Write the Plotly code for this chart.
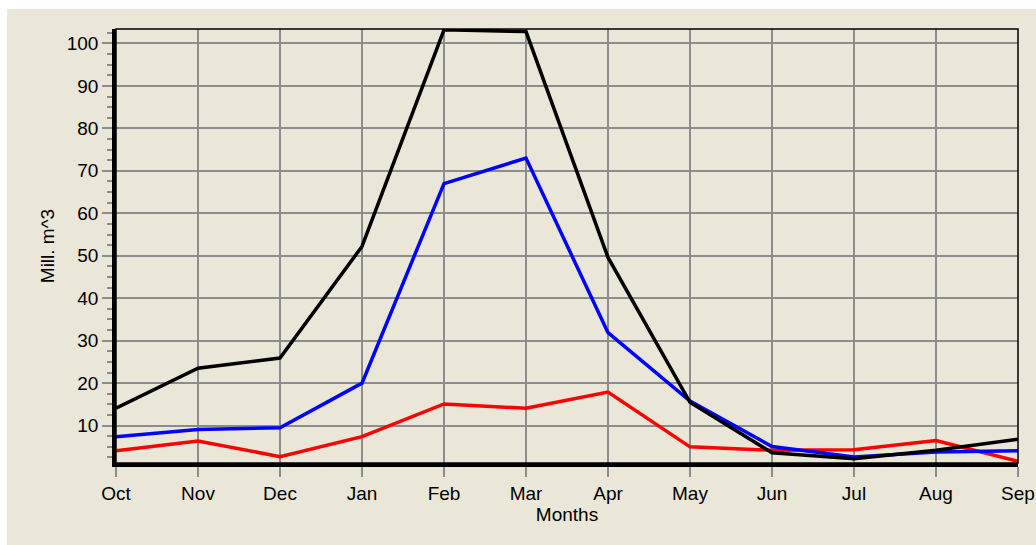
import plotly.graph_objects as go

months = ["Oct", "Nov", "Dec", "Jan", "Feb", "Mar", "Apr", "May", "Jun", "Jul", "Aug", "Sep"]
series_black = [14.1, 23.5, 25.9, 52.2, 103.2, 102.8, 49.6, 15.5, 3.6, 2.2, 4.2, 6.8]
series_blue = [7.4, 9.1, 9.5, 20.0, 67.0, 73.0, 31.9, 15.8, 5.1, 2.6, 3.8, 4.1]
series_red = [4.1, 6.4, 2.7, 7.4, 15.1, 14.1, 17.9, 5.0, 4.2, 4.3, 6.5, 1.6]
y_ticks = [10, 20, 30, 40, 50, 60, 70, 80, 90, 100]

BEIGE = "#EAE6D8"
GRID = "#8C8C8C"
FONT = "Liberation Sans, Arial, sans-serif"

x = list(range(len(months)))

fig = go.Figure()
for vals, col in [(series_red, "#FF0000"), (series_blue, "#0000FF"), (series_black, "#000000")]:
    fig.add_trace(go.Scatter(x=x, y=vals, mode="lines",
                             line=dict(color=col, width=3.5), showlegend=False))

fig.update_layout(
    width=1036, height=545,
    margin=dict(l=116, r=18, t=29, b=82, autoexpand=False),
    paper_bgcolor=BEIGE, plot_bgcolor=BEIGE,
    font=dict(family=FONT, size=19, color="black"),
    shapes=[
        # white strips along the top and left page edges
        dict(type="rect", xref="paper", yref="paper", x0=-0.2, x1=1.1, y0=1.0 + 20 / 434, y1=1.1,
             fillcolor="white", line=dict(width=0), layer="below"),
        dict(type="rect", xref="paper", yref="paper", x0=-116 / 902, x1=-109 / 902, y0=-0.3, y1=1.1,
             fillcolor="white", line=dict(width=0), layer="below"),
        # frame around the plot area
        dict(type="rect", xref="paper", yref="paper", x0=0, x1=1, y0=0, y1=1,
             line=dict(color="black", width=1.5), layer="above"),
    ],
)

fig.update_xaxes(
    range=[0, 11], tickvals=x, ticktext=months,
    showgrid=True, gridcolor=GRID, gridwidth=2,
    ticks="outside", ticklen=10, tickcolor=GRID, tickwidth=1.5,
    showline=True, linecolor="black", linewidth=3.5,
    zeroline=False, automargin=False,
    title=dict(text="Months", font=dict(size=19), standoff=4),
    tickfont=dict(size=19),
)
fig.update_yaxes(
    range=[1.2, 103.4], tickvals=y_ticks,
    showgrid=True, gridcolor=GRID, gridwidth=2,
    ticks="outside", ticklen=10, tickcolor=GRID, tickwidth=1.5,
    minor=dict(dtick=2.5, tick0=0, ticks="outside", ticklen=5, tickcolor=GRID, showgrid=False),
    showline=True, linecolor="black", linewidth=3.5,
    zeroline=False, automargin=False,
    title=dict(text="Mill. m^3", font=dict(size=19), standoff=8),
    tickfont=dict(size=19),
)

fig.write_html("out.html")
